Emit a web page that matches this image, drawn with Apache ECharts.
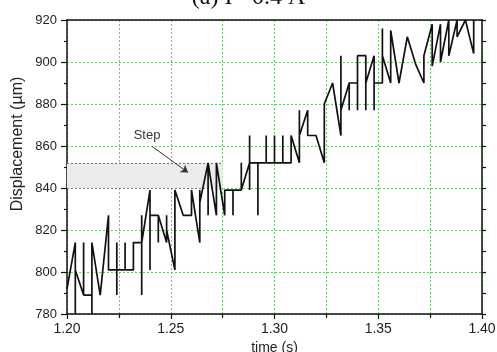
<!DOCTYPE html>
<html>
<head>
<meta charset="utf-8">
<script src="https://cdn.jsdelivr.net/npm/echarts@6/dist/echarts.min.js"></script>
<style>
  html, body { margin: 0; padding: 0; background: #fff; }
  #chart { width: 497px; height: 352px; }
</style>
</head>
<body>
<div id="chart"></div>
<script>
// time (s) and displacement (um); repeated times draw the near-vertical jumps
const times = [
  1.200,
  1.204, 1.204, 1.204,
  1.208, 1.208, 1.208,
  1.212, 1.212, 1.212,
  1.216,
  1.220, 1.220,
  1.224, 1.224, 1.224, 1.224,
  1.228, 1.228, 1.228,
  1.232, 1.232,
  1.236, 1.236, 1.236, 1.236,
  1.240, 1.240, 1.240,
  1.244, 1.244, 1.244,
  1.248, 1.248, 1.248,
  1.252, 1.252,
  1.256,
  1.260, 1.260,
  1.264, 1.264, 1.264,
  1.268, 1.268, 1.268,
  1.272, 1.272,
  1.276, 1.276,
  1.280, 1.280, 1.280,
  1.284, 1.284, 1.284,
  1.288, 1.288, 1.288, 1.288,
  1.292, 1.292, 1.292,
  1.296, 1.296, 1.296,
  1.300, 1.300, 1.300,
  1.304, 1.304, 1.304,
  1.308, 1.308,
  1.312, 1.312, 1.312,
  1.316, 1.316,
  1.320,
  1.324, 1.324,
  1.328,
  1.332, 1.332, 1.332,
  1.336, 1.336, 1.336,
  1.340, 1.340, 1.340,
  1.344, 1.344, 1.344,
  1.348, 1.348, 1.348,
  1.352, 1.352, 1.352,
  1.356, 1.356,
  1.360,
  1.364,
  1.368,
  1.372, 1.372,
  1.376, 1.376,
  1.380, 1.380,
  1.384, 1.384,
  1.388, 1.388,
  1.392,
  1.396, 1.396
];
const disp = [
  792,
  814, 780, 801,
  789, 814, 789,
  789, 780, 814,
  789,
  827, 801,
  801, 789, 814, 801,
  801, 814, 801,
  801, 814,
  814, 789, 827, 814,
  839, 801, 827,
  827, 814, 827,
  814, 827, 820,
  801, 839,
  827,
  827, 839,
  814, 839, 833,
  852, 827, 852,
  827, 852,
  827, 839,
  839, 827, 839,
  839, 852, 839,
  852, 865, 839, 852,
  852, 827, 852,
  852, 865, 852,
  852, 865, 852,
  852, 865, 852,
  852, 865,
  852, 877, 865,
  877, 865,
  865,
  852, 880,
  890,
  865, 903, 877,
  890, 877, 890,
  890, 877, 903,
  903, 877, 890,
  903, 877, 890,
  890, 916, 903,
  890, 915,
  890,
  912,
  899,
  890, 903,
  918, 898,
  918, 900,
  920, 903,
  920, 912,
  920,
  904, 920
];

const xTicks = [1.20, 1.25, 1.30, 1.35, 1.40];
const yTicks = [780, 800, 820, 840, 860, 880, 900, 920];

// shaded "Step" band and arrow
const stepBand = [1.200, 1.275, 840, 852];
const stepArrow = [[1.241, 859.8], [1.2583, 847.4]];

const chart = echarts.init(document.getElementById('chart'));

const gridGreen = '#44bf44';
const gridDash = [2, 2];
const labelFont = { fontFamily: 'Liberation Sans', fontSize: 14, color: '#222' };

const option = {
  animation: false,
  backgroundColor: '#fff',
  grid: { left: 67, right: 15, top: 20, bottom: 38, outerBoundsMode: 'none', containLabel: false },
  xAxis: [
    {
      type: 'value',
      min: xTicks[0],
      max: xTicks[xTicks.length - 1],
      interval: 0.05,
      name: 'time (s)',
      nameLocation: 'middle',
      nameGap: 26,
      nameTextStyle: labelFont,
      axisLine: { show: true, onZero: false, lineStyle: { color: '#111', width: 1.5 } },
      axisTick: { show: true, length: 5, lineStyle: { color: '#111', width: 1.2 } },
      minorTick: { show: true, splitNumber: 2, length: 4, lineStyle: { color: '#111', width: 1.2 } },
      splitLine: { show: true, lineStyle: { color: gridGreen, type: gridDash, width: 1, opacity: 0.8 } },
      minorSplitLine: { show: true, lineStyle: { color: gridGreen, type: gridDash, width: 1, opacity: 0.8 } },
      axisLabel: Object.assign({ margin: 8, formatter: v => v.toFixed(2) }, labelFont)
    },
    {
      type: 'value',
      position: 'top',
      min: xTicks[0],
      max: xTicks[xTicks.length - 1],
      interval: 0.05,
      axisLine: { show: true, onZero: false, lineStyle: { color: '#111', width: 1.5 } },
      axisTick: { show: false },
      axisLabel: { show: false },
      splitLine: { show: false }
    }
  ],
  yAxis: [
    {
      type: 'value',
      min: yTicks[0],
      max: yTicks[yTicks.length - 1],
      interval: 20,
      axisLine: { show: true, onZero: false, lineStyle: { color: '#111', width: 1.5 } },
      axisTick: { show: true, length: 6, lineStyle: { color: '#111', width: 1.2 } },
      minorTick: { show: true, splitNumber: 2, length: 3, lineStyle: { color: '#111', width: 1.2 } },
      splitLine: { show: true, lineStyle: { color: gridGreen, type: gridDash, width: 1, opacity: 0.8 } },
      axisLabel: Object.assign({ margin: 10 }, labelFont, { fontSize: 13 })
    },
    {
      type: 'value',
      position: 'right',
      min: yTicks[0],
      max: yTicks[yTicks.length - 1],
      interval: 20,
      axisLine: { show: true, onZero: false, lineStyle: { color: '#111', width: 1.5 } },
      axisTick: { show: true, length: 4, lineStyle: { color: '#111', width: 1.2 } },
      minorTick: { show: true, splitNumber: 2, length: 4, lineStyle: { color: '#111', width: 1.2 } },
      axisLabel: { show: false },
      splitLine: { show: false }
    }
  ],
  graphic: [
    {
      type: 'text',
      left: 'center',
      top: -14,
      style: { text: '(a) I= 0.4 A', font: '24px "Liberation Serif"', fill: '#111' }
    },
    {
      type: 'text',
      x: 18,
      y: 144,
      rotation: Math.PI / 2,
      style: { text: 'Displacement (\u00b5m)', font: '16px "Liberation Sans"', fill: '#222', align: 'center', verticalAlign: 'middle' }
    },
    {
      type: 'text',
      x: 147,
      y: 135,
      style: { text: 'Step', font: '13px "Liberation Sans"', fill: '#333', align: 'center', verticalAlign: 'middle' }
    }
  ],
  series: [
    {
      type: 'line',
      data: times.map((t, i) => [t, disp[i]]),
      showSymbol: false,
      symbol: 'none',
      clip: true,
      lineStyle: { color: '#111', width: 1.7 },
      z: 5,
      markArea: {
        silent: true,
        itemStyle: { color: '#ebebeb' },
        data: [[{ coord: [stepBand[0], stepBand[2]] }, { coord: [stepBand[1], stepBand[3]] }]]
      },
      markLine: {
        silent: true,
        symbol: ['none', 'none'],
        label: { show: false },
        lineStyle: { color: '#777', type: gridDash, width: 1 },
        data: [
          [{ coord: [stepBand[0], stepBand[3]] }, { coord: [stepBand[1], stepBand[3]] }],
          [{ coord: [stepBand[0], stepBand[2]] }, { coord: [stepBand[1], stepBand[2]] }],
          [
            { coord: stepArrow[0], symbol: 'none', lineStyle: { color: '#333', type: 'solid', width: 1 } },
            { coord: stepArrow[1], symbol: 'arrow', symbolSize: 7 }
          ]
        ]
      }
    }
  ]
};

chart.setOption(option);
</script>
</body>
</html>
